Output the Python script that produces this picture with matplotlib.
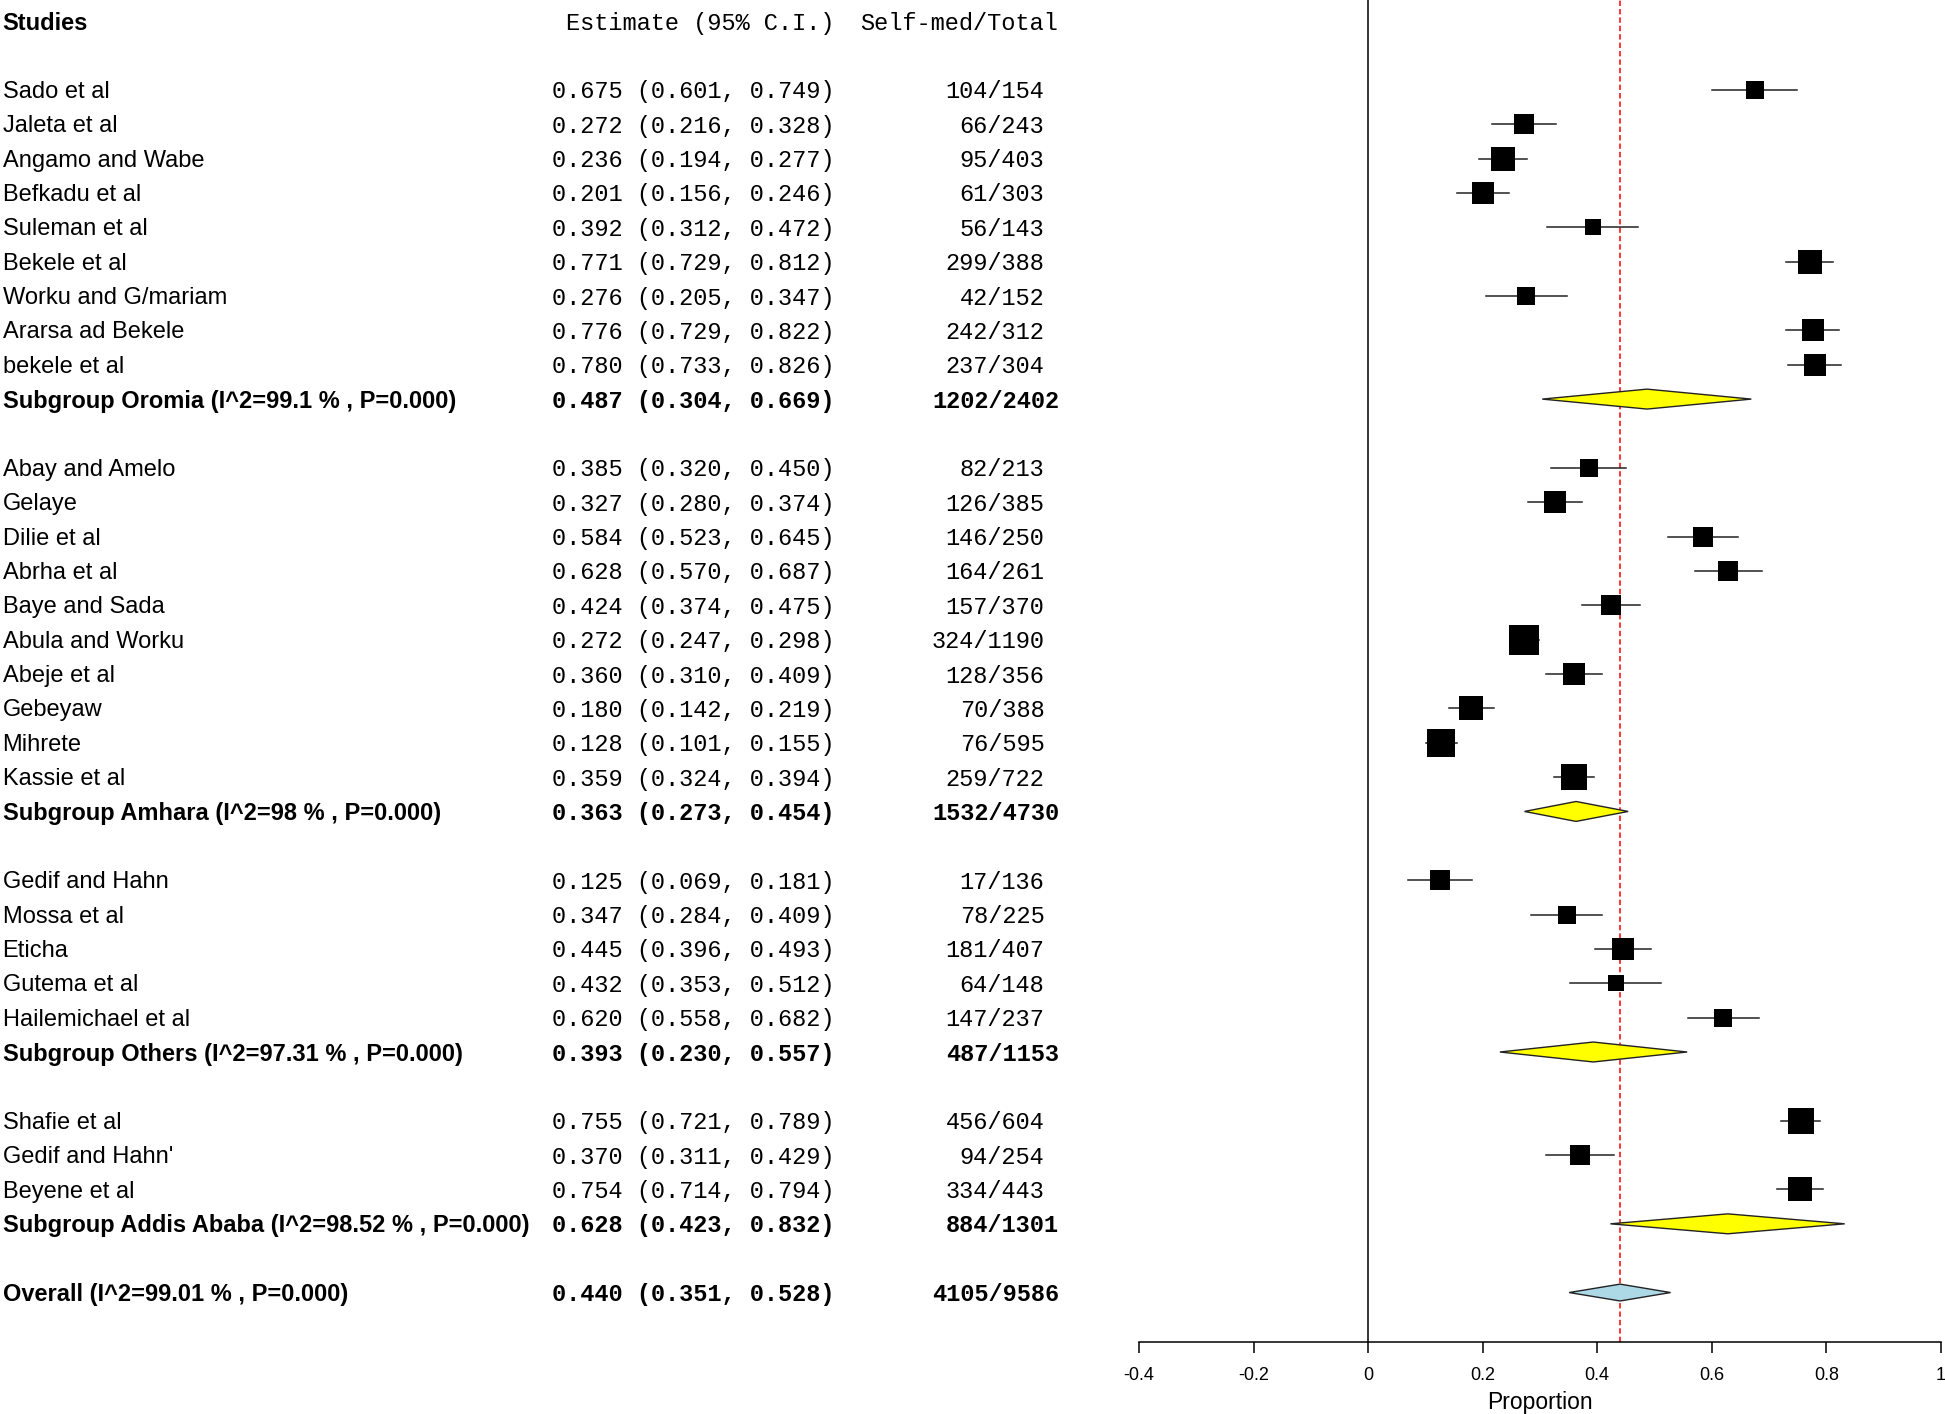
import numpy as np
import matplotlib.pyplot as plt
from matplotlib.patches import Polygon
from matplotlib.transforms import blended_transform_factory

# study level data, grouped by region
oromia_names = ["Sado et al", "Jaleta et al", "Angamo and Wabe", "Befkadu et al", "Suleman et al",
                "Bekele et al", "Worku and G/mariam", "Ararsa ad Bekele", "bekele et al"]
oromia_est = [0.675, 0.272, 0.236, 0.201, 0.392, 0.771, 0.276, 0.776, 0.780]
oromia_lo = [0.601, 0.216, 0.194, 0.156, 0.312, 0.729, 0.205, 0.729, 0.733]
oromia_hi = [0.749, 0.328, 0.277, 0.246, 0.472, 0.812, 0.347, 0.822, 0.826]
oromia_events = [104, 66, 95, 61, 56, 299, 42, 242, 237]
oromia_total = [154, 243, 403, 303, 143, 388, 152, 312, 304]

amhara_names = ["Abay and Amelo", "Gelaye", "Dilie et al", "Abrha et al", "Baye and Sada",
                "Abula and Worku", "Abeje et al", "Gebeyaw", "Mihrete", "Kassie et al"]
amhara_est = [0.385, 0.327, 0.584, 0.628, 0.424, 0.272, 0.360, 0.180, 0.128, 0.359]
amhara_lo = [0.320, 0.280, 0.523, 0.570, 0.374, 0.247, 0.310, 0.142, 0.101, 0.324]
amhara_hi = [0.450, 0.374, 0.645, 0.687, 0.475, 0.298, 0.409, 0.219, 0.155, 0.394]
amhara_events = [82, 126, 146, 164, 157, 324, 128, 70, 76, 259]
amhara_total = [213, 385, 250, 261, 370, 1190, 356, 388, 595, 722]

others_names = ["Gedif and Hahn", "Mossa et al", "Eticha", "Gutema et al", "Hailemichael et al"]
others_est = [0.125, 0.347, 0.445, 0.432, 0.620]
others_lo = [0.069, 0.284, 0.396, 0.353, 0.558]
others_hi = [0.181, 0.409, 0.493, 0.512, 0.682]
others_events = [17, 78, 181, 64, 147]
others_total = [136, 225, 407, 148, 237]

addis_names = ["Shafie et al", "Gedif and Hahn'", "Beyene et al"]
addis_est = [0.755, 0.370, 0.754]
addis_lo = [0.721, 0.311, 0.714]
addis_hi = [0.789, 0.429, 0.794]
addis_events = [456, 94, 334]
addis_total = [604, 254, 443]

# subgroup summaries
sub_labels = ["Subgroup Oromia (I^2=99.1 % , P=0.000)",
              "Subgroup Amhara (I^2=98 % , P=0.000)",
              "Subgroup Others (I^2=97.31 % , P=0.000)",
              "Subgroup Addis Ababa (I^2=98.52 % , P=0.000)"]
sub_est = [0.487, 0.363, 0.393, 0.628]
sub_lo = [0.304, 0.273, 0.230, 0.423]
sub_hi = [0.669, 0.454, 0.557, 0.832]

overall_label = "Overall (I^2=99.01 % , P=0.000)"
overall_est = 0.440
overall_lo = 0.351
overall_hi = 0.528

xticks = [-0.4, -0.2, 0, 0.2, 0.4, 0.6, 0.8, 1]
xtick_labels = ["-0.4", "-0.2", "0", "0.2", "0.4", "0.6", "0.8", "1"]

groups = [
    (oromia_names, oromia_est, oromia_lo, oromia_hi, oromia_events, oromia_total),
    (amhara_names, amhara_est, amhara_lo, amhara_hi, amhara_events, amhara_total),
    (others_names, others_est, others_lo, others_hi, others_events, others_total),
    (addis_names, addis_est, addis_lo, addis_hi, addis_events, addis_total),
]

SANS = "Liberation Sans"
MONO = "Liberation Mono"
FS = 17
DY = 0.06  # small nudge so text sits level with the markers

fig = plt.figure(figsize=(19.45, 14.14), dpi=100)
ax = fig.add_axes([0.5856, 0.0509, 0.4123, 0.9491])
ax.set_xlim(-0.4, 1.0)
ax.set_ylim(38.44, -0.614)

tr = blended_transform_factory(fig.transFigure, ax.transData)
x_name, x_est, x_cnt, x_cnt_b = 0.0013, 0.2838, 0.5370, 0.5445


def row_text(y, name, est, lo, hi, ev, tot, bold=False):
    w = "bold" if bold else "normal"
    y = y + DY
    ax.text(x_name, y, name, transform=tr, family=SANS, fontsize=FS, weight=w,
            va="center", ha="left", clip_on=False)
    ax.text(x_est, y, f"{est:.3f} ({lo:.3f}, {hi:.3f})", transform=tr, family=MONO,
            fontsize=FS, weight=w, va="center", ha="left", clip_on=False)
    ax.text(x_cnt_b if bold else x_cnt, y, f"{ev}/{tot}", transform=tr, family=MONO,
            fontsize=FS, weight=w, va="center", ha="right", clip_on=False)


def diamond(y, est, lo, hi, h, color):
    ax.add_patch(Polygon([[lo, y], [est, y - h], [hi, y], [est, y + h]], closed=True,
                         facecolor=color, edgecolor="#222222", lw=1.0, zorder=3))


# header
ax.text(x_name, DY, "Studies", transform=tr, family=SANS, fontsize=FS, weight="bold",
        va="center", ha="left", clip_on=False)
ax.text(0.2910, DY, "Estimate (95% C.I.)", transform=tr, family=MONO, fontsize=FS,
        va="center", ha="left", clip_on=False)
ax.text(0.4420, DY, "Self-med/Total", transform=tr, family=MONO, fontsize=FS,
        va="center", ha="left", clip_on=False)

row = 2
all_ev, all_tot = 0, 0
for g, (names, est, lo, hi, ev, tot) in enumerate(groups):
    for i in range(len(names)):
        row_text(row, names[i], est[i], lo[i], hi[i], ev[i], tot[i])
        ax.plot([lo[i], hi[i]], [row, row], color="#222222", lw=1.1, zorder=2)
        side = 6.66 / np.sqrt(hi[i] - lo[i]) * 0.72
        ax.plot(est[i], row, marker="s", color="black", markersize=side,
                markeredgewidth=0, zorder=3)
        row += 1
    row_text(row, sub_labels[g], sub_est[g], sub_lo[g], sub_hi[g], sum(ev), sum(tot), bold=True)
    diamond(row, sub_est[g], sub_lo[g], sub_hi[g], 0.29, "#ffff00")
    all_ev += sum(ev)
    all_tot += sum(tot)
    row += 2

row_text(row, overall_label, overall_est, overall_lo, overall_hi, all_ev, all_tot, bold=True)
diamond(row, overall_est, overall_lo, overall_hi, 0.245, "#add8e6")

ax.axvline(0, color="black", lw=1.1, zorder=1)
ax.axvline(overall_est, color="red", lw=1.1, linestyle=(0, (3.5, 2)), zorder=1)

for s in ["top", "left", "right"]:
    ax.spines[s].set_visible(False)
ax.spines["bottom"].set_linewidth(1.1)
ax.set_yticks([])
ax.set_xticks(xticks)
ax.set_xticklabels(xtick_labels, family=SANS, fontsize=13)
ax.tick_params(axis="x", direction="out", length=8, width=1.1, pad=10)
ax.set_xlabel("Proportion", family=SANS, fontsize=16.5, labelpad=5)
ax.patch.set_visible(False)

fig.savefig("out.png", dpi=100)
